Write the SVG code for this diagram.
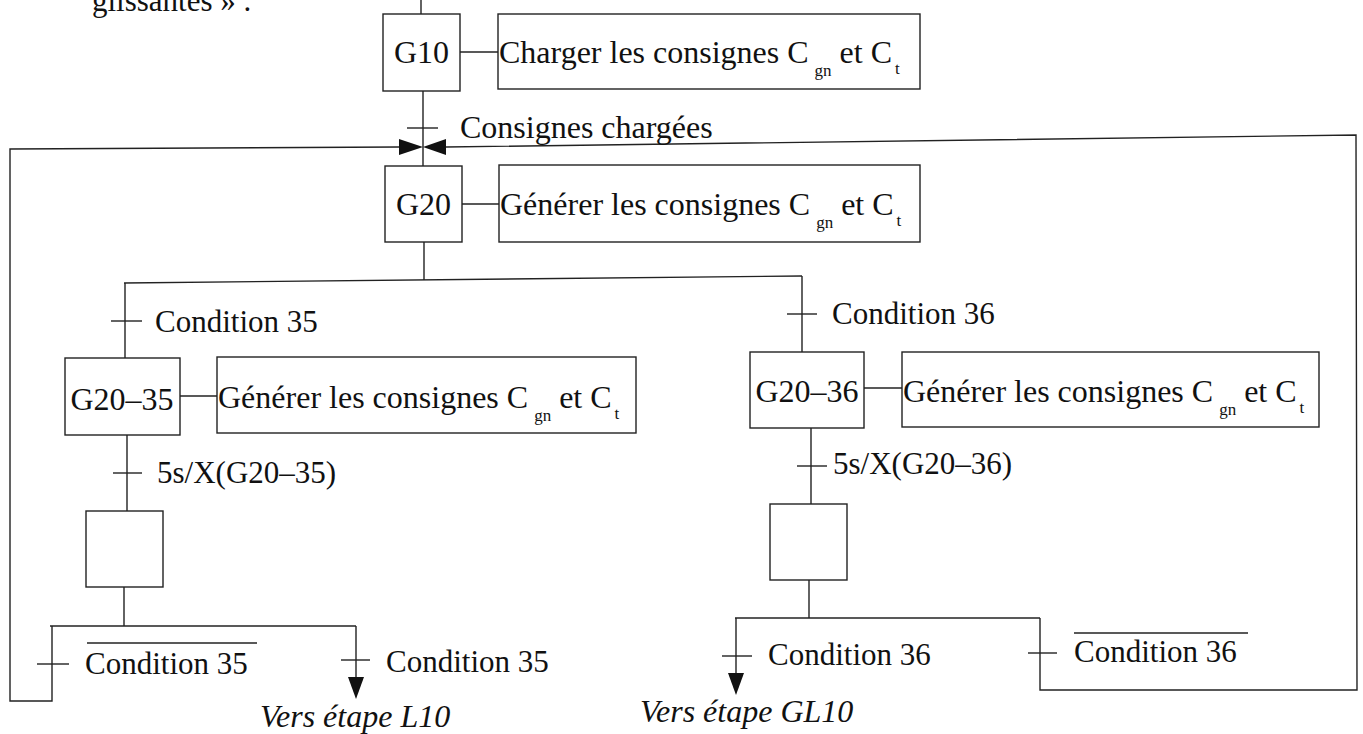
<svg xmlns="http://www.w3.org/2000/svg" width="1363" height="734" viewBox="0 0 1363 734">
<style>
text{font-family:"Liberation Serif","Times New Roman",serif;fill:#111;}
.t{font-size:31px;}
.a{font-size:32px;}
.s{font-size:32px;}
.sub{font-size:17px;}
.i{font-size:32px;font-style:italic;}
.box{fill:none;stroke:#222;stroke-width:1.4;}
.ln{fill:none;stroke:#222;stroke-width:1.4;}
.ah{fill:#111;stroke:none;}
</style>
<rect width="1363" height="734" fill="#fff"/>
<text class="t" x="92" y="11">glissantes » .</text>

<g id="connectors">
<line class="ln" x1="421" y1="0" x2="421" y2="14"/>
<line class="ln" x1="460" y1="52" x2="498" y2="52"/>
<line class="ln" x1="423" y1="91" x2="423" y2="166"/>
<line class="ln" x1="407" y1="128" x2="438" y2="128"/>
<polygon class="ah" points="399,139 399,155 423,147"/>
<polygon class="ah" points="446,139 446,155 423,147"/>
<polyline class="ln" points="399,147 10,149 10,701 52,701 52,626"/>
<polyline class="ln" points="446,147 1356,135 1357,690 1040,690 1040,618"/>
<line class="ln" x1="462" y1="204" x2="499" y2="204"/>
<line class="ln" x1="424" y1="242" x2="424" y2="280"/>
<line class="ln" x1="124" y1="283" x2="802" y2="276"/>
<line class="ln" x1="125" y1="283" x2="125" y2="358"/>
<line class="ln" x1="111" y1="321" x2="142" y2="321"/>
<line class="ln" x1="802" y1="276" x2="802" y2="352"/>
<line class="ln" x1="787" y1="314" x2="817" y2="314"/>
<line class="ln" x1="180" y1="396" x2="217" y2="396"/>
<line class="ln" x1="864" y1="388" x2="902" y2="388"/>
<line class="ln" x1="127" y1="435" x2="127" y2="511"/>
<line class="ln" x1="113" y1="473" x2="142" y2="473"/>
<line class="ln" x1="811" y1="428" x2="811" y2="504"/>
<line class="ln" x1="797" y1="466" x2="827" y2="466"/>
<line class="ln" x1="124" y1="587" x2="124" y2="626"/>
<line class="ln" x1="50" y1="626" x2="356" y2="626"/>
<line class="ln" x1="37" y1="664" x2="69" y2="664"/>
<line class="ln" x1="356" y1="626" x2="356" y2="680"/>
<line class="ln" x1="341" y1="660" x2="370" y2="660"/>
<polygon class="ah" points="348,677 364,677 356,699"/>
<line class="ln" x1="809" y1="580" x2="809" y2="618"/>
<line class="ln" x1="735" y1="618" x2="1040" y2="618"/>
<line class="ln" x1="736" y1="618" x2="736" y2="676"/>
<line class="ln" x1="722" y1="656" x2="752" y2="656"/>
<polygon class="ah" points="728,673 744,673 736,695"/>
<line class="ln" x1="1028" y1="653" x2="1057" y2="653"/>
</g>

<g id="G10">
<rect class="box" x="383" y="14" width="77" height="77"/>
<text class="s" x="421.5" y="63" text-anchor="middle">G10</text>
</g>
<g id="G10-action">
<rect class="box" x="498" y="14" width="422" height="75"/>
<text class="a" x="499" y="63">Charger les consignes C<tspan class="sub" dx="6" dy="13">gn</tspan><tspan dx="8" dy="-13">et C</tspan><tspan class="sub" dx="3" dy="11">t</tspan></text>
</g>
<text class="s" x="460" y="138" id="t-consignes">Consignes chargées</text>

<g id="G20">
<rect class="box" x="385" y="166" width="77" height="76"/>
<text class="s" x="423.5" y="215" text-anchor="middle">G20</text>
</g>
<g id="G20-action">
<rect class="box" x="499" y="165" width="421" height="77"/>
<text class="a" x="500" y="215">Générer les consignes C<tspan class="sub" dx="6" dy="13">gn</tspan><tspan dx="8" dy="-13">et C</tspan><tspan class="sub" dx="3" dy="11">t</tspan></text>
</g>

<text class="t" x="155" y="332">Condition 35</text>
<text class="t" x="832" y="324">Condition 36</text>

<g id="G20-35">
<rect class="box" x="65" y="358" width="115" height="77"/>
<text class="s" x="122" y="410" text-anchor="middle">G20–35</text>
</g>
<g id="G20-35-action">
<rect class="box" x="217" y="357" width="419" height="76"/>
<text class="a" x="218" y="408">Générer les consignes C<tspan class="sub" dx="6" dy="13">gn</tspan><tspan dx="8" dy="-13">et C</tspan><tspan class="sub" dx="3" dy="11">t</tspan></text>
</g>

<g id="G20-36">
<rect class="box" x="750" y="352" width="114" height="76"/>
<text class="s" x="807" y="402" text-anchor="middle">G20–36</text>
</g>
<g id="G20-36-action">
<rect class="box" x="902" y="352" width="417" height="75"/>
<text class="a" x="903" y="402">Générer les consignes C<tspan class="sub" dx="6" dy="13">gn</tspan><tspan dx="8" dy="-13">et C</tspan><tspan class="sub" dx="3" dy="11">t</tspan></text>
</g>

<text class="t" x="157" y="483">5s/X(G20–35)</text>
<text class="t" x="833" y="474">5s/X(G20–36)</text>

<g id="S35">
<rect class="box" x="86" y="511" width="77" height="76"/>
</g>
<g id="S36">
<rect class="box" x="770" y="504" width="77" height="76"/>
</g>

<text class="t" x="85" y="674">Condition 35</text>
<line class="ln" x1="87" y1="643" x2="257" y2="643"/>
<text class="t" x="386" y="672">Condition 35</text>
<text class="t" x="768" y="665">Condition 36</text>
<text class="t" x="1074" y="662">Condition 36</text>
<line class="ln" x1="1074" y1="633" x2="1248" y2="633"/>

<text class="i" x="260" y="727">Vers étape L10</text>
<text class="i" x="640" y="722">Vers étape GL10</text>
</svg>
